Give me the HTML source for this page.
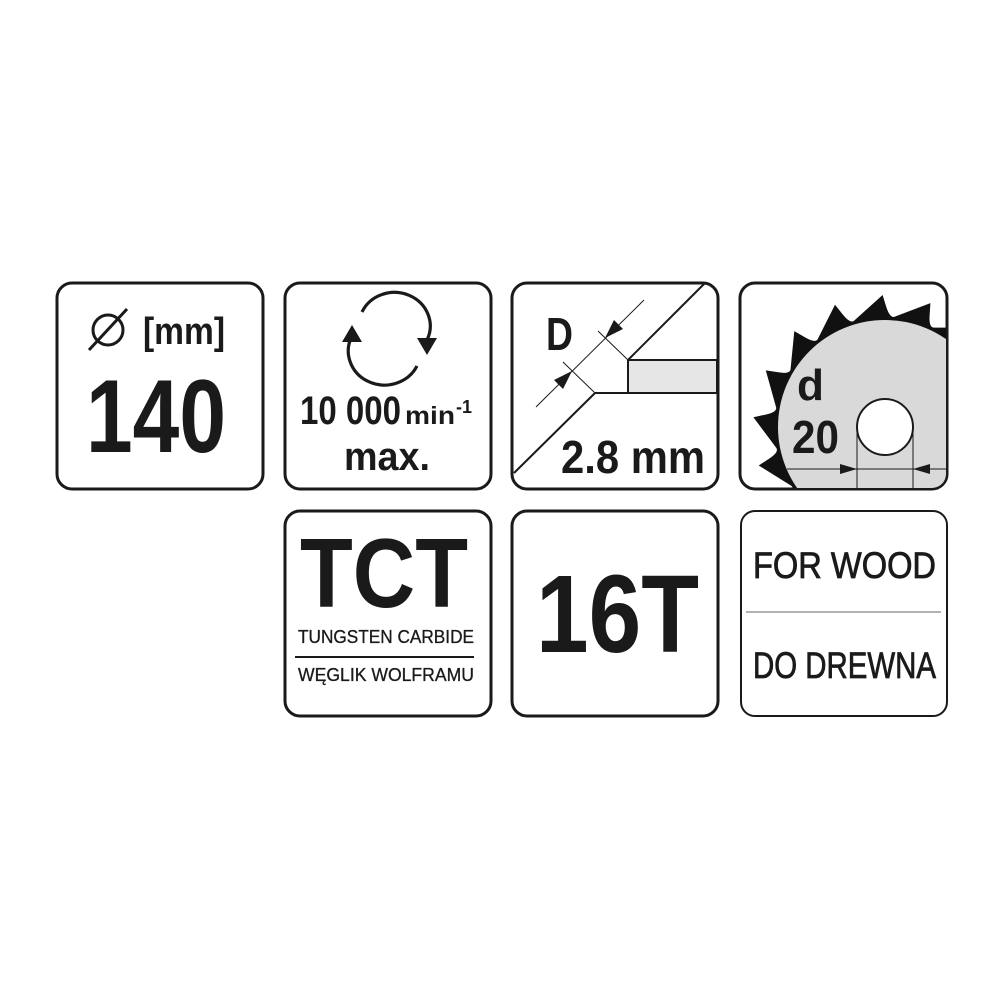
<!DOCTYPE html>
<html><head><meta charset="utf-8"><style>
html,body{margin:0;padding:0;background:#fff;}
svg{display:block;font-family:"Liberation Sans",sans-serif;}
</style></head><body>
<svg width="1000" height="1000" viewBox="0 0 1000 1000">
<defs><clipPath id="c4"><rect x="741" y="284" width="205" height="204" rx="14"/></clipPath></defs>
<g fill="none" stroke="#1a1a1a" stroke-width="3">
<rect x="57" y="283" width="206" height="206" rx="15"/>
<rect x="285" y="283" width="206" height="206" rx="15"/>
<rect x="512" y="283" width="206" height="206" rx="15"/>
<rect x="740" y="283" width="207" height="206" rx="15"/>
<rect x="285" y="511" width="206" height="205" rx="15"/>
<rect x="512" y="511" width="206" height="205" rx="15"/>
<rect x="741" y="511" width="206" height="205" rx="14" stroke-width="2"/>
</g>
<!-- box1 -->
<circle cx="108" cy="330" r="15" fill="none" stroke="#1a1a1a" stroke-width="3"/>
<line x1="89" y1="350" x2="127" y2="309" stroke="#1a1a1a" stroke-width="3"/>
<text x="143" y="344" font-size="38" font-weight="bold" fill="#1a1a1a" textLength="82" lengthAdjust="spacingAndGlyphs">[mm]</text>
<text x="86" y="452" font-size="104" font-weight="bold" fill="#1a1a1a" textLength="140" lengthAdjust="spacingAndGlyphs">140</text>
<!-- box2 -->
<g fill="none" stroke="#1a1a1a" stroke-width="3.2">
<path d="M362 312 A34 32 0 0 1 427 340"/>
<path d="M417 366 A34 32 0 0 1 352 336"/>
</g>
<polygon points="417,338 437,338 427,355" fill="#1a1a1a"/>
<polygon points="342,342 362,342 352,325" fill="#1a1a1a"/>
<text x="300" y="424" font-size="40" font-weight="bold" fill="#1a1a1a" textLength="101" lengthAdjust="spacingAndGlyphs">10 000</text>
<text x="405" y="424" font-size="25" font-weight="bold" fill="#1a1a1a" textLength="50" lengthAdjust="spacingAndGlyphs">min</text>
<text x="456" y="413" font-size="18" font-weight="bold" fill="#1a1a1a">-1</text>
<text x="344" y="470" font-size="40" font-weight="bold" fill="#1a1a1a" textLength="86" lengthAdjust="spacingAndGlyphs">max.</text>
<!-- box3 -->
<rect x="628" y="360" width="89" height="33" fill="#e6e6e6" stroke="#1a1a1a" stroke-width="2"/>
<g stroke="#1a1a1a" stroke-width="2" fill="none">
<line x1="628" y1="360" x2="704" y2="284"/>
<line x1="595" y1="393" x2="628" y2="393"/>
<line x1="595" y1="393" x2="514" y2="473"/>
</g>
<g stroke="#1a1a1a" stroke-width="1" fill="none">
<line x1="536" y1="407" x2="644" y2="300"/>
<line x1="598" y1="331" x2="628" y2="360"/>
<line x1="563" y1="362" x2="595" y2="393"/>
</g>
<polygon points="605,338 614,320 623,329" fill="#1a1a1a"/>
<polygon points="572,371 554,380 563,389" fill="#1a1a1a"/>
<text x="546" y="350" font-size="46" font-weight="bold" fill="#1a1a1a" textLength="27" lengthAdjust="spacingAndGlyphs">D</text>
<text x="561" y="473" font-size="46" font-weight="bold" fill="#1a1a1a" textLength="144" lengthAdjust="spacingAndGlyphs">2.8 mm</text>
<!-- box4 -->
<g clip-path="url(#c4)">
<path id="teeth" fill="#111"/>
<circle cx="885" cy="427" r="107" fill="#d9d9d9"/>
<circle cx="885" cy="427" r="28" fill="#fff" stroke="#1a1a1a" stroke-width="2"/>
<line x1="857" y1="427" x2="857" y2="490" stroke="#1a1a1a" stroke-width="1"/>
<line x1="913" y1="427" x2="913" y2="490" stroke="#1a1a1a" stroke-width="1"/>
<line x1="787" y1="469" x2="947" y2="469" stroke="#1a1a1a" stroke-width="1"/>
<polygon points="857,469 840,464 840,474" fill="#1a1a1a"/>
<polygon points="913,469 930,464 930,474" fill="#1a1a1a"/>
</g>
<text x="797" y="400" font-size="44" font-weight="bold" fill="#1a1a1a" textLength="27" lengthAdjust="spacingAndGlyphs">d</text>
<text x="792" y="453" font-size="46" font-weight="bold" fill="#1a1a1a" textLength="47" lengthAdjust="spacingAndGlyphs">20</text>
<!-- row2 -->
<text x="300" y="607" font-size="98" font-weight="bold" fill="#1a1a1a" textLength="168" lengthAdjust="spacingAndGlyphs">TCT</text>
<text x="298" y="643" font-size="18" fill="#1a1a1a" textLength="176" lengthAdjust="spacingAndGlyphs" stroke="#1a1a1a" stroke-width="0.3">TUNGSTEN CARBIDE</text>
<line x1="295" y1="657" x2="474" y2="657" stroke="#1a1a1a" stroke-width="2"/>
<text x="298" y="681" font-size="18" fill="#1a1a1a" textLength="176" lengthAdjust="spacingAndGlyphs" stroke="#1a1a1a" stroke-width="0.3">WĘGLIK  WOLFRAMU</text>
<text x="536" y="652" font-size="110" font-weight="bold" fill="#1a1a1a" textLength="163" lengthAdjust="spacingAndGlyphs">16T</text>
<text x="753" y="578" font-size="37" fill="#1a1a1a" textLength="183" lengthAdjust="spacingAndGlyphs" stroke="#1a1a1a" stroke-width="0.8">FOR WOOD</text>
<line x1="746" y1="612" x2="941" y2="612" stroke="#999" stroke-width="1.5"/>
<text x="753" y="678" font-size="37" fill="#1a1a1a" textLength="183" lengthAdjust="spacingAndGlyphs" stroke="#1a1a1a" stroke-width="0.8">DO DREWNA</text>
</svg>
<script>
(function(){var cx=885,cy=427,n=17,d="",s=360/n;
function p(r,a){a=a*Math.PI/180;return (cx+r*Math.cos(a)).toFixed(1)+","+(cy+r*Math.sin(a)).toFixed(1);}
for(var i=0;i<n;i++){var a=i*s;
d+=(i?"L":"M")+p(111,a)+"L"+p(132,a+s*0.7)+"L"+p(120,a+s*0.78)+"Q"+p(108,a+s*0.88)+" "+p(111,a+s);}
document.getElementById("teeth").setAttribute("d",d+"Z");})();
</script>
</body></html>
